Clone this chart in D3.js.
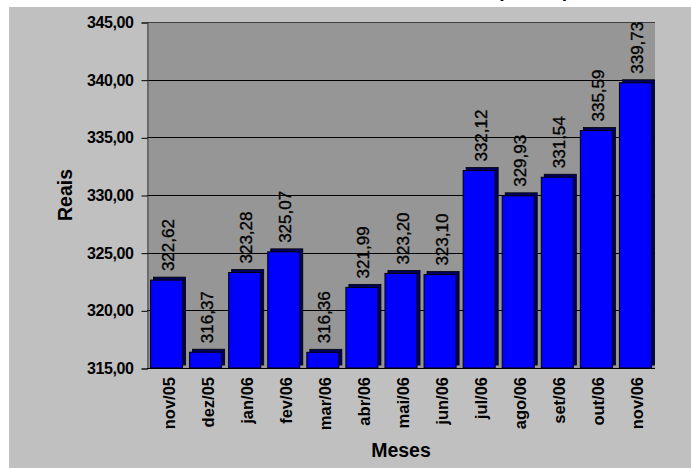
<!DOCTYPE html>
<html>
<head>
<meta charset="utf-8">
<script src="https://cdn.jsdelivr.net/npm/d3@7"></script>
<style>
  body { margin: 0; background: #fff; }
  svg { display: block; font-family: Arial, "Liberation Sans", sans-serif; }
</style>
</head>
<body>
<svg id="chart" width="691" height="468"></svg>
<script>
// data
const meses = ["nov/05", "dez/05", "jan/06", "fev/06", "mar/06", "abr/06", "mai/06",
  "jun/06", "jul/06", "ago/06", "set/06", "out/06", "nov/06"];
const valores = [322.62, 316.37, 323.28, 325.07, 316.36, 321.99, 323.20,
  323.10, 332.12, 329.93, 331.54, 335.59, 339.73];
const yTicks = [315, 320, 325, 330, 335, 340, 345];

const svg = d3.select("#chart");
const W = 691, H = 468;
const plot = { left: 147, right: 655, top: 22, bottom: 368 };
const depth = 3;

const fmt = v => v.toFixed(2).replace(".", ",");

// outer grey area
svg.append("rect").attr("x", 9).attr("y", 7).attr("width", W - 9).attr("height", H - 7)
  .attr("fill", "#c0c0c0");

// title, almost all of it above the top of the picture
svg.append("text")
  .attr("x", 569).attr("y", -3)
  .attr("text-anchor", "end")
  .attr("font-size", 19).attr("font-weight", "bold")
  .text("Valor da Cesta Básica (Em R$)");

const x = d3.scaleBand().domain(meses).range([plot.left, plot.right]).paddingInner(0.18).paddingOuter(0.09);
const y = d3.scaleLinear().domain([315, 345]).range([plot.bottom, plot.top]);

// plot area
svg.append("rect")
  .attr("x", plot.left).attr("y", plot.top)
  .attr("width", plot.right - plot.left).attr("height", plot.bottom - plot.top)
  .attr("fill", "#969696");

// gridlines
svg.append("g").selectAll("line").data(yTicks.slice(1)).join("line")
  .attr("x1", plot.left).attr("x2", plot.right)
  .attr("y1", d => Math.round(y(d)) + 0.5).attr("y2", d => Math.round(y(d)) + 0.5)
  .attr("stroke", d => d === 345 ? "#404040" : "#000").attr("stroke-width", 1);

// y axis
const yAxis = svg.append("g")
  .attr("transform", `translate(${plot.left + 0.5},0.5)`)
  .call(d3.axisLeft(y).tickValues(yTicks).tickFormat(fmt).tickSize(6).tickPadding(8));
yAxis.select(".domain").attr("stroke", "#404040");
yAxis.selectAll(".tick line").attr("stroke", "#000");
yAxis.selectAll("text")
  .attr("font-size", 16).attr("font-weight", "bold").attr("fill", "#000")
  .attr("font-family", "Arial, 'Liberation Sans', sans-serif")
  .style("letter-spacing", "-0.4px");

// bars with a small 3d edge
const bars = svg.append("g").selectAll("g").data(valores).join("g");
bars.append("rect")
  .attr("x", (d, i) => x(meses[i]) + depth)
  .attr("y", d => y(d) - depth)
  .attr("width", x.bandwidth())
  .attr("height", d => plot.bottom - y(d))
  .attr("fill", "#000060").attr("stroke", "#000").attr("stroke-width", 0.8);
bars.append("rect")
  .attr("x", (d, i) => x(meses[i]))
  .attr("y", d => y(d))
  .attr("width", x.bandwidth())
  .attr("height", d => plot.bottom - y(d))
  .attr("fill", "#0000ff").attr("stroke", "#000").attr("stroke-width", 1);

// x axis line
svg.append("line")
  .attr("x1", plot.left).attr("x2", plot.right)
  .attr("y1", plot.bottom + 0.5).attr("y2", plot.bottom + 0.5)
  .attr("stroke", "#000");

// value labels
bars.append("text")
  .attr("transform", (d, i) => `translate(${x(meses[i]) + x.bandwidth() / 2 + depth / 2 + 6},${y(d) - depth - 6}) rotate(-90)`)
  .attr("font-size", 17)
  .attr("stroke", "#000").attr("stroke-width", 0.35)
  .text(d => fmt(d));

// category labels
svg.append("g").selectAll("text").data(meses).join("text")
  .attr("transform", d => `translate(${x(d) + x.bandwidth() / 2 + 8},${plot.bottom + 9}) rotate(-90)`)
  .attr("text-anchor", "end")
  .attr("font-size", 16.5).attr("font-weight", "bold")
  .text(d => d);

// axis titles
svg.append("text")
  .attr("transform", `translate(72,${(plot.top + plot.bottom) / 2}) rotate(-90)`)
  .attr("text-anchor", "middle")
  .attr("font-size", 19.5).attr("font-weight", "bold")
  .text("Reais");

svg.append("text")
  .attr("x", (plot.left + plot.right) / 2).attr("y", 457)
  .attr("text-anchor", "middle")
  .attr("font-size", 19.5).attr("font-weight", "bold")
  .text("Meses");
</script>
</body>
</html>
